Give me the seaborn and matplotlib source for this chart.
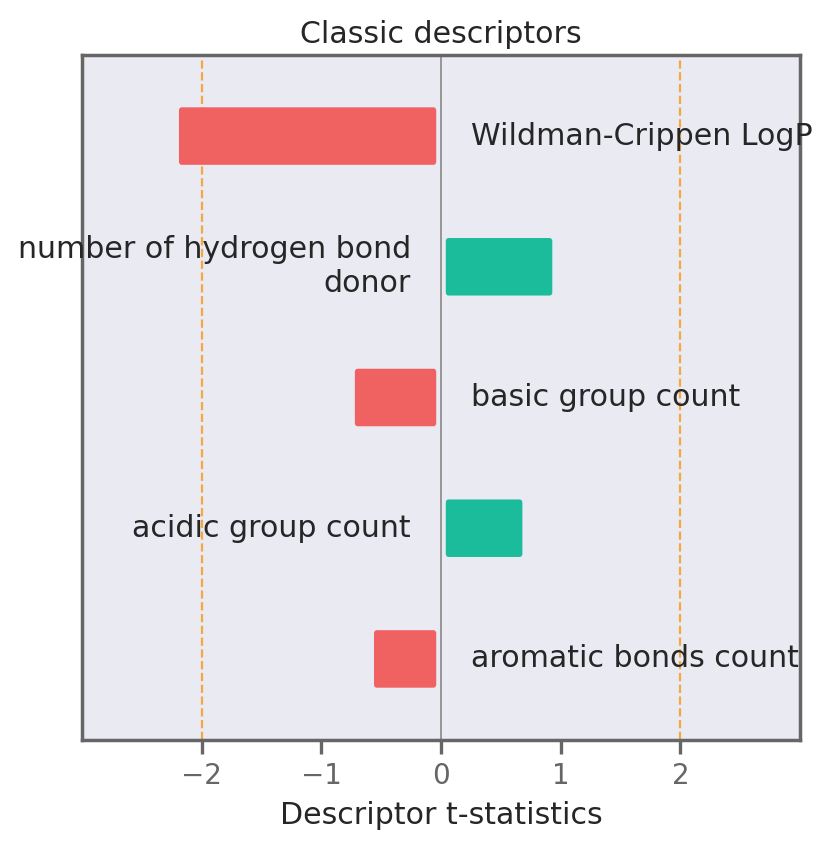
import textwrap
import pandas as pd
import matplotlib
matplotlib.use("Agg")
import matplotlib.pyplot as plt
from matplotlib.patches import FancyBboxPatch
import seaborn as sns

# datos
descriptors = ["Wildman-Crippen LogP", "number of hydrogen bond donor",
               "basic group count", "acidic group count", "aromatic bonds count"]
t_stats = [-2.23, 0.97, -0.76, 0.72, -0.60]

df = pd.DataFrame({"descriptor": descriptors, "t": t_stats})
df["sign"] = ["neg" if v < 0 else "pos" for v in df["t"]]

sns.set_theme(style="dark")
plt.rcParams["font.family"] = ["DejaVu Sans"]

fig = plt.figure(figsize=(4.155, 4.245), dpi=200)
ax = fig.add_axes([0.0987, 0.1284, 0.864, 0.8068])

sns.barplot(data=df, x="t", y="descriptor", hue="sign", dodge=False,
            palette={"neg": "#F06262", "pos": "#1ABC9C"}, width=0.52,
            saturation=1, legend=False, ax=ax)

# barras con esquinas redondeadas
for bar in list(ax.patches):
    bb = bar.get_bbox()
    x0, x1 = min(bb.x0, bb.x1), max(bb.x0, bb.x1)
    y0, y1 = min(bb.y0, bb.y1), max(bb.y0, bb.y1)
    if x1 - x0 == 0:
        bar.remove()
        continue
    fancy = FancyBboxPatch((x0, y0), x1 - x0, y1 - y0,
                           boxstyle="round,pad=-0.04,rounding_size=0.025",
                           facecolor=bar.get_facecolor(), edgecolor="none",
                           zorder=2)
    bar.remove()
    ax.add_patch(fancy)

# etiquetas al lado de cada barra
for i, row in df.iterrows():
    label = textwrap.fill(row["descriptor"], 24)
    if row["t"] < 0:
        ax.text(0.25, i, label, ha="left", va="center", fontsize=10.8,
                color="#262626", zorder=5, clip_on=False)
    else:
        ax.text(-0.25, i, label, ha="right", va="center", fontsize=10.8,
                color="#262626", zorder=5, clip_on=False, multialignment="right")

ax.axvline(0, color="#888888", lw=0.6, zorder=1)
ax.axvline(-2, color="#F5A742", lw=0.8, ls="--", zorder=1)
ax.axvline(2, color="#F5A742", lw=0.8, ls="--", zorder=1)

ax.set_xlim(-3.0, 3.0)
ax.set_ylim(4.62, -0.62)
ax.set_xticks([-2, -1, 0, 1, 2])
ax.set_yticks([])
ax.set_ylabel("")
ax.set_xlabel("Descriptor t-statistics", fontsize=10.8, color="#262626")
ax.set_title("Classic descriptors", fontsize=10.8, color="#262626", pad=4.5)
ax.tick_params(axis="x", bottom=True, length=5, width=1.2, color="#666666",
               labelsize=10, labelcolor="#666666", pad=3)
for sp in ax.spines.values():
    sp.set_visible(True)
    sp.set_color("#666666")
    sp.set_linewidth(1.25)

fig.savefig("out.png", dpi=200)
